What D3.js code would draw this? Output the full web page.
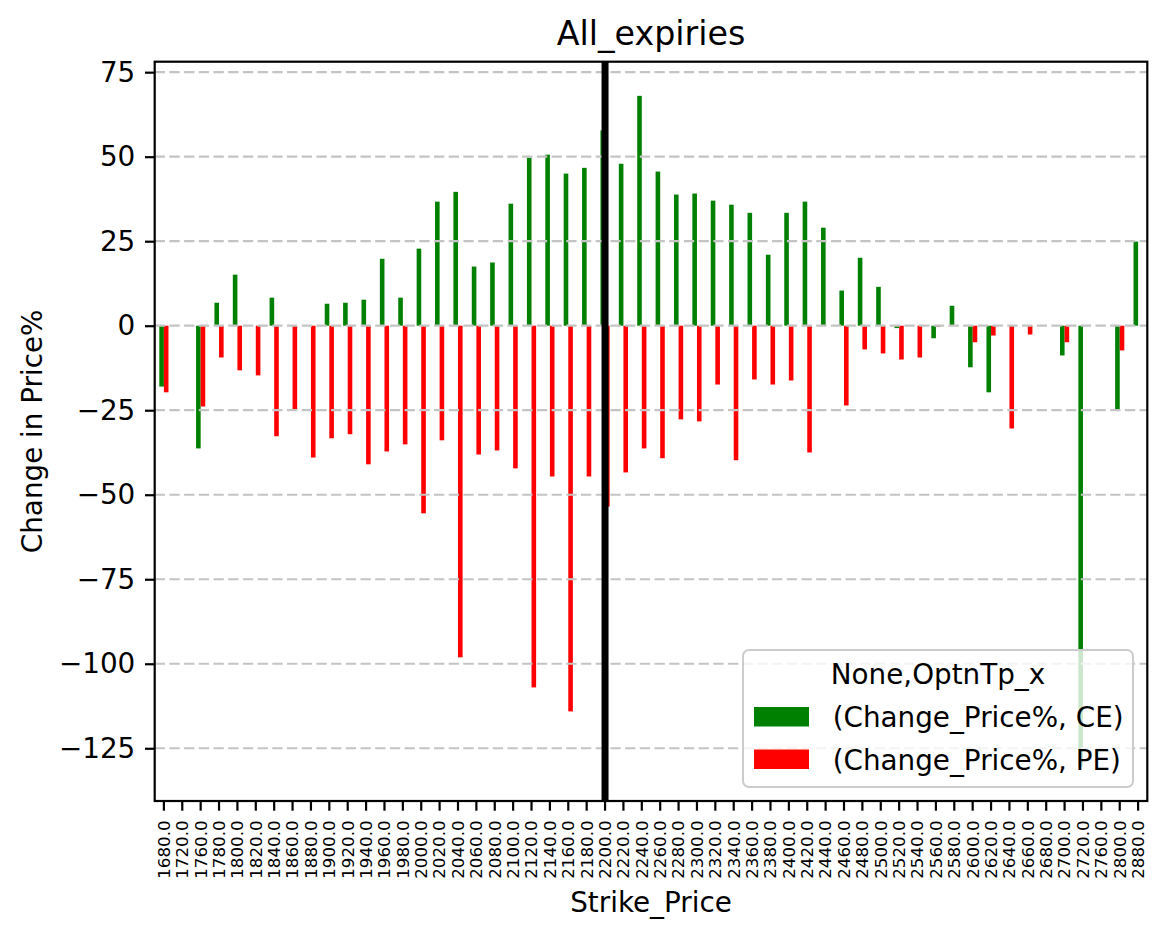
<!DOCTYPE html>
<html>
<head>
<meta charset="utf-8">
<script src="https://cdn.jsdelivr.net/npm/d3@7"></script>
<style>
  html, body { margin: 0; padding: 0; background: #fff; }
  svg { display: block; }
  text { font-family: "DejaVu Sans", sans-serif; fill: #000; }
</style>
</head>
<body>
<svg id="chart" width="1166" height="939"></svg>
<script>
// ---------- data ----------
const strikes = [1680,1720,1760,1780,1800,1820,1840,1860,1880,1900,1920,1940,1960,1980,
  2000,2020,2040,2060,2080,2100,2120,2140,2160,2180,2200,2220,2240,2260,2280,2300,
  2320,2340,2360,2380,2400,2420,2440,2460,2480,2500,2520,2540,2560,2580,2600,2620,
  2640,2660,2680,2700,2720,2760,2800,2880];
const changeCE = [-18.0,null,-36.3,6.8,15.1,null,8.3,null,null,6.5,6.8,7.7,19.8,8.3,
  22.8,36.7,39.6,17.5,18.7,36.1,49.7,50.6,45.0,46.7,57.8,47.9,68.0,45.6,38.8,39.1,
  37.0,35.8,33.4,21.0,33.4,36.7,29.0,10.4,20.1,11.5,-0.7,null,-3.7,5.9,-12.3,-19.7,
  null,null,null,-8.8,-130.3,null,-24.8,24.9];
const changePE = [-19.7,null,-23.9,-9.4,-13.2,-14.7,-32.7,-24.8,-39.0,-33.3,-32.1,-41.0,-37.2,-35.1,
  -55.5,-33.9,-98.1,-38.1,-36.9,-42.2,-107.0,-44.6,-114.1,-44.6,-53.5,-43.4,-36.3,-39.2,-27.7,-28.3,
  -17.4,-39.8,-15.9,-17.4,-16.2,-37.5,null,-23.6,-7.0,-8.2,-10.0,-9.4,-0.3,null,-4.9,-2.9,
  -30.4,-2.6,null,-4.9,null,null,-7.3,null];
const yTicks = [-125,-100,-75,-50,-25,0,25,50,75];
const spotStrike = 2200;
const seriesNames = ["(Change_Price%, CE)", "(Change_Price%, PE)"];
const seriesColors = ["#008000", "#ff0000"];
const legendTitle = "None,OptnTp_x";
const chartTitle = "All_expiries";
const xLabel = "Strike_Price";
const yLabel = "Change in Price%";

// ---------- layout ----------
const L = 154.7, R = 1147.3, T = 61.7, B = 801;
const fsTick = 27.8, fsSmall = 16.7, fsTitle = 33.3;
const tickLen = 9.7, tickPad = 9.7;

const svg = d3.select("#chart");
svg.append("rect").attr("width",1166).attr("height",939).attr("fill","#fff");

const x = d3.scaleBand().domain(strikes).range([L, R]).paddingInner(0).paddingOuter(0);
const y = d3.scaleLinear().domain([-140.6, 78.1]).range([B, T]);
const bw = x.bandwidth();

const rows = strikes.map((s,i) => ({s, ce: changeCE[i], pe: changePE[i]}));

// bars
const barG = svg.append("g");
[["ce",0.25,0],["pe",0.5,1]].forEach(([key,off,ci]) => {
  barG.selectAll("rect."+key).data(rows.filter(d => d[key] !== null)).join("rect")
    .attr("class", key)
    .attr("x", d => x(d.s) + bw*off)
    .attr("width", bw*0.25)
    .attr("y", d => y(Math.max(0, d[key])))
    .attr("height", d => Math.abs(y(d[key]) - y(0)))
    .attr("fill", seriesColors[ci]);
});

// grid
svg.append("g").selectAll("line").data(yTicks).join("line")
  .attr("x1", L).attr("x2", R)
  .attr("y1", d => y(d)).attr("y2", d => y(d))
  .attr("stroke", "#c4c4c4").attr("stroke-width", 2.2)
  .attr("stroke-dasharray", "10.3,4.4");

// spot line
svg.append("line")
  .attr("x1", x(spotStrike) + bw/2).attr("x2", x(spotStrike) + bw/2)
  .attr("y1", T).attr("y2", B)
  .attr("stroke", "#000").attr("stroke-width", 7);

// y axis
const yAxis = svg.append("g").attr("transform", `translate(${L},0)`)
  .call(d3.axisLeft(y).tickValues(yTicks).tickSize(tickLen).tickSizeOuter(0).tickPadding(tickPad));
yAxis.select(".domain").remove();
yAxis.selectAll("line").attr("stroke","#000").attr("stroke-width",2.2);
yAxis.selectAll("text").attr("font-size", fsTick).attr("font-family","DejaVu Sans");

// x axis
const xAxis = svg.append("g").attr("transform", `translate(0,${B})`)
  .call(d3.axisBottom(x).tickSize(tickLen).tickSizeOuter(0).tickFormat(d => d.toFixed(1)));
xAxis.select(".domain").remove();
xAxis.selectAll("line").attr("stroke","#000").attr("stroke-width",2.2);
xAxis.selectAll("text")
  .attr("font-size", fsSmall).attr("font-family","DejaVu Sans")
  .attr("transform","rotate(-90)")
  .attr("x", -(tickLen + tickPad)).attr("y", 0).attr("dy","0.35em")
  .attr("text-anchor","end");

// spines
svg.append("rect").attr("x", L).attr("y", T).attr("width", R-L).attr("height", B-T)
  .attr("fill","none").attr("stroke","#000").attr("stroke-width",2.2);

// title & labels
svg.append("text").attr("x", (L+R)/2).attr("y", 45).attr("text-anchor","middle")
  .attr("font-size", fsTitle).text(chartTitle);
svg.append("text").attr("x", (L+R)/2).attr("y", 912).attr("text-anchor","middle")
  .attr("font-size", fsTick).text(xLabel);
svg.append("text").attr("transform", `translate(42,${(T+B)/2}) rotate(-90)`)
  .attr("text-anchor","middle").attr("font-size", fsTick).text(yLabel);

// legend
const lg = svg.append("g");
lg.append("rect").attr("x",743).attr("y",650).attr("width",390).attr("height",137)
  .attr("rx",6).attr("fill","#fff").attr("fill-opacity",0.8)
  .attr("stroke","#cccccc").attr("stroke-width",2);
lg.append("text").attr("x",938).attr("y",684).attr("text-anchor","middle")
  .attr("font-size", fsTick).text(legendTitle);
seriesNames.forEach((n,i) => {
  lg.append("rect").attr("x",754).attr("y",707 + i*42.5).attr("width",55).attr("height",19.5)
    .attr("fill", seriesColors[i]);
  lg.append("text").attr("x",832.7).attr("y",727 + i*42.5).attr("font-size", fsTick).text(n);
});
</script>
</body>
</html>
